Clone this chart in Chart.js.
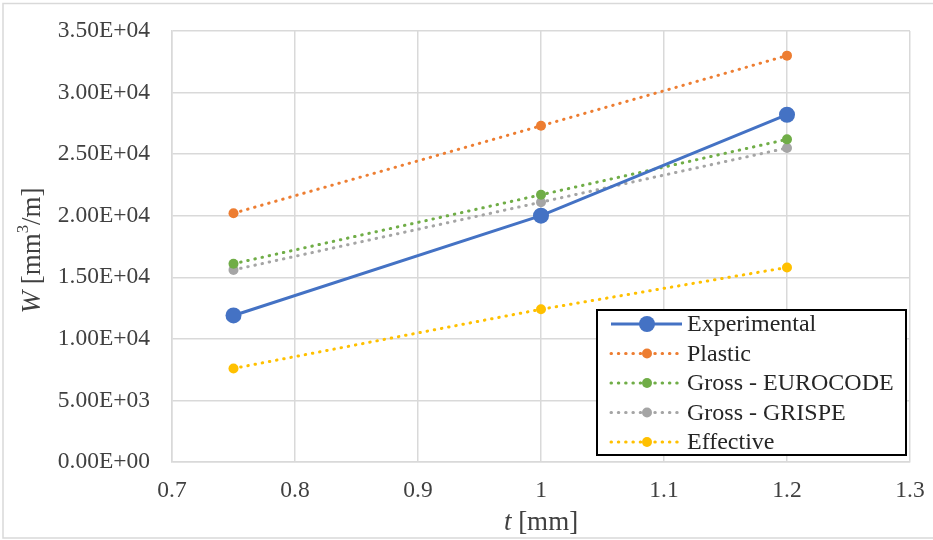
<!DOCTYPE html>
<html>
<head>
<meta charset="utf-8">
<script src="https://cdn.jsdelivr.net/npm/chart.js@4.4.1/dist/chart.umd.min.js"></script>
<style>
  html, body { margin: 0; padding: 0; background: #ffffff; }
  #wrap { position: relative; width: 933px; height: 540px; overflow: hidden; }
  canvas { display: block; }
</style>
</head>
<body>
<div id="wrap"><canvas id="chart" width="933" height="540"></canvas></div>
<script>
// Section modulus W versus sheet thickness t
const thickness = [0.75, 1.0, 1.2];
const experimental = [11900, 20000, 28200];
const plastic = [20200, 27300, 33000];
const grossEurocode = [16100, 21700, 26200];
const grossGrispe = [15600, 21100, 25500];
const effective = [7600, 12400, 15800];

const seriesNames = ['Experimental', 'Plastic', 'Gross - EUROCODE', 'Gross - GRISPE', 'Effective'];
const xTickLabels = ['0.7', '0.8', '0.9', '1', '1.1', '1.2', '1.3'];
const yTickLabels = ['0.00E+00', '5.00E+03', '1.00E+04', '1.50E+04', '2.00E+04', '2.50E+04', '3.00E+04', '3.50E+04'];

const FONT = '"Liberation Serif", "Times New Roman", serif';
const TEXT = '#404040';
const GRID = '#d9d9d9';
const TICK_SIZE = 23.5;
const TITLE_SIZE = 27;
const LEGEND_SIZE = 24;

const points = (vals) => thickness.map((t, i) => ({ x: t, y: vals[i] }));

const DOT = [0.5, 6.8];

function dotted(label, vals, color) {
  return {
    label,
    data: points(vals),
    borderColor: color,
    backgroundColor: color,
    borderWidth: 3,
    borderDash: DOT,
    borderCapStyle: 'round',
    pointRadius: 5,
    pointHoverRadius: 5,
    pointBorderWidth: 0,
    pointBackgroundColor: color,
    tension: 0,
  };
}

const datasets = [
  {
    label: seriesNames[0],
    data: points(experimental),
    borderColor: '#4472C4',
    backgroundColor: '#4472C4',
    borderWidth: 3,
    pointRadius: 8,
    pointHoverRadius: 8,
    pointBorderWidth: 0,
    pointBackgroundColor: '#4472C4',
    tension: 0,
  },
  dotted(seriesNames[1], plastic, '#ED7D31'),
  dotted(seriesNames[2], grossEurocode, '#70AD47'),
  dotted(seriesNames[3], grossGrispe, '#A5A5A5'),
  dotted(seriesNames[4], effective, '#FFC000'),
];

// Light frame around the whole figure
const framePlugin = {
  id: 'frame',
  beforeDraw(chart) {
    const ctx = chart.ctx;
    ctx.save();
    ctx.strokeStyle = '#d9d9d9';
    ctx.lineWidth = 1.5;
    ctx.strokeRect(3, 3.5, 960, 534.5);
    ctx.restore();
  }
};

// Draw a run of text pieces (plain / italic / superscript) starting at x
function drawRich(ctx, pieces, x, y, size) {
  let cx = x;
  for (const p of pieces) {
    const s = p.sup ? size * 0.62 : size;
    ctx.font = (p.italic ? 'italic ' : '') + s + 'px ' + FONT;
    const dy = p.sup ? -size * 0.34 : 0;
    ctx.fillText(p.t, cx, y + dy);
    cx += ctx.measureText(p.t).width;
  }
  return cx - x;
}
function measureRich(ctx, pieces, size) {
  let w = 0;
  for (const p of pieces) {
    const s = p.sup ? size * 0.62 : size;
    ctx.font = (p.italic ? 'italic ' : '') + s + 'px ' + FONT;
    w += ctx.measureText(p.t).width;
  }
  return w;
}

const yTitle = [{ t: 'W', italic: true }, { t: ' [mm' }, { t: '3', sup: true }, { t: '/m]' }];
const xTitle = [{ t: 't', italic: true }, { t: ' [mm]' }];

const titlesPlugin = {
  id: 'axisTitles',
  afterDraw(chart) {
    const ctx = chart.ctx;
    const a = chart.chartArea;
    ctx.save();
    ctx.fillStyle = TEXT;
    ctx.textBaseline = 'middle';
    ctx.textAlign = 'left';
    // x title
    const wx = measureRich(ctx, xTitle, TITLE_SIZE);
    drawRich(ctx, xTitle, (a.left + a.right) / 2 - wx / 2, 523, TITLE_SIZE);
    // y title, rotated
    ctx.translate(33, (a.top + a.bottom) / 2 + 4);
    ctx.rotate(-Math.PI / 2);
    const wy = measureRich(ctx, yTitle, TITLE_SIZE);
    drawRich(ctx, yTitle, -wy / 2, 0, TITLE_SIZE);
    ctx.restore();
  }
};

// Boxed legend inside the plot area
const legendPlugin = {
  id: 'boxLegend',
  afterDraw(chart) {
    const ctx = chart.ctx;
    const left = 597, top = 310, right = 906, bottom = 455;
    ctx.save();
    ctx.fillStyle = '#ffffff';
    ctx.fillRect(left, top, right - left, bottom - top);
    ctx.strokeStyle = '#000000';
    ctx.lineWidth = 2;
    ctx.strokeRect(left, top, right - left, bottom - top);
    const rowH = 29.5;
    chart.data.datasets.forEach((ds, i) => {
      const y = 324 + i * rowH;
      ctx.strokeStyle = ds.borderColor;
      ctx.lineWidth = ds.borderWidth;
      ctx.setLineDash(ds.borderDash || []);
      ctx.lineCap = ds.borderDash ? 'round' : 'butt';
      ctx.beginPath();
      ctx.moveTo(611, y);
      ctx.lineTo(682, y);
      ctx.stroke();
      ctx.setLineDash([]);
      ctx.fillStyle = ds.pointBackgroundColor;
      ctx.beginPath();
      ctx.arc(647, y, ds.pointRadius, 0, Math.PI * 2);
      ctx.fill();
      ctx.fillStyle = '#262626';
      ctx.font = LEGEND_SIZE + 'px ' + FONT;
      ctx.textBaseline = 'middle';
      ctx.textAlign = 'left';
      ctx.fillText(ds.label, 687, y + 1);
    });
    ctx.restore();
  }
};

new Chart(document.getElementById('chart'), {
  type: 'line',
  data: { datasets },
  options: {
    responsive: false,
    animation: false,
    events: [],
    layout: { padding: { left: 0, top: 31, right: 23, bottom: 0 } },
    plugins: {
      legend: { display: false },
      tooltip: { enabled: false },
    },
    scales: {
      x: {
        type: 'linear',
        min: 0.7,
        max: 1.3,
        afterBuildTicks(scale) {
          scale.ticks = xTickLabels.map((_, i) => ({ value: Math.round((0.7 + i * 0.1) * 10) / 10 }));
        },
        afterFit(scale) {
          scale.height = 78;
          scale.paddingLeft = 0;
          scale.paddingRight = 0;
        },
        ticks: {
          callback: (v, i) => xTickLabels[i],
          font: { family: FONT, size: TICK_SIZE },
          color: TEXT,
          padding: 15,
          maxRotation: 0,
        },
        grid: { color: GRID, lineWidth: 1.5, drawTicks: false },
        border: { color: GRID, width: 1.5 },
      },
      y: {
        type: 'linear',
        min: 0,
        max: 35000,
        afterBuildTicks(scale) {
          scale.ticks = yTickLabels.map((_, i) => ({ value: i * 5000 }));
        },
        afterFit(scale) {
          scale.width = 172;
          scale.paddingTop = 0;
          scale.paddingBottom = 0;
        },
        ticks: {
          callback: (v, i) => yTickLabels[i],
          font: { family: FONT, size: TICK_SIZE },
          color: TEXT,
          padding: 22,
        },
        grid: { color: GRID, lineWidth: 1.5, drawTicks: false },
        border: { color: GRID, width: 1.5 },
      },
    },
  },
  plugins: [framePlugin, titlesPlugin, legendPlugin],
});
</script>
</body>
</html>
